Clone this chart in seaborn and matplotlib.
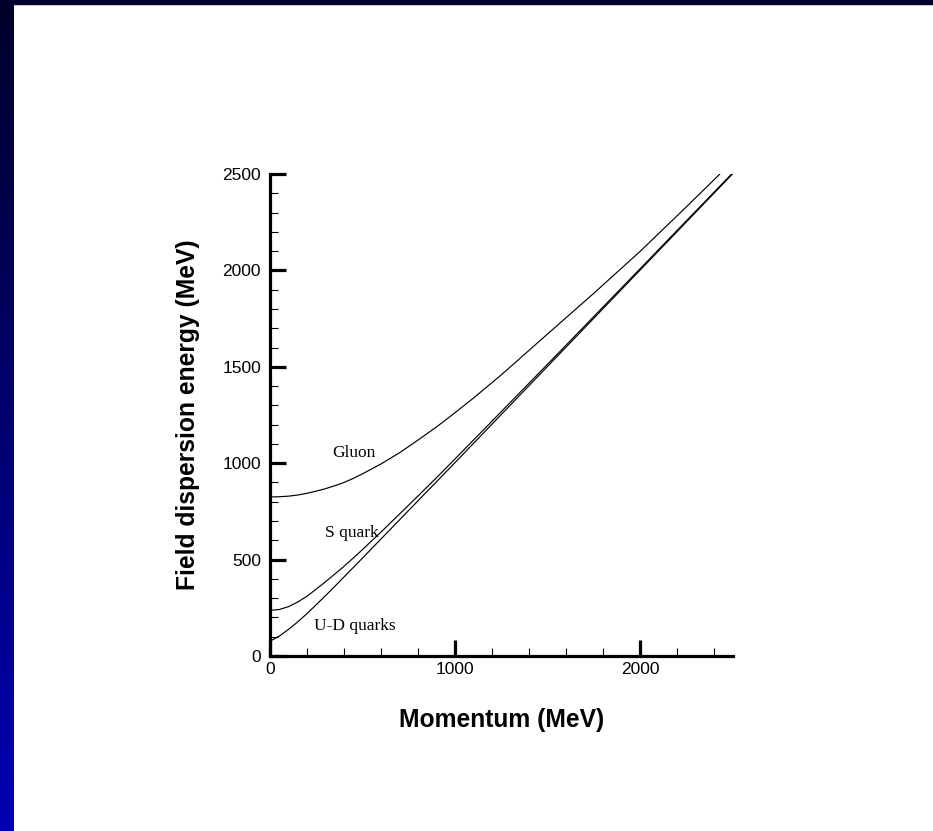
import numpy as np
import pandas as pd
import matplotlib
matplotlib.use("Agg")
import matplotlib.pyplot as plt
from matplotlib.colors import LinearSegmentedColormap
from matplotlib.patches import Rectangle
from matplotlib.ticker import MultipleLocator
import seaborn as sns

# Dispersion curves E(p), MeV
gluon_p = [0, 50, 100, 150, 200, 250, 300, 350, 400, 450, 500, 600, 700, 800, 900,
           1000, 1100, 1250, 1500, 1750, 2000, 2250, 2432]
gluon_e = [825, 826, 829, 835, 844, 855, 868, 883, 900, 921, 945, 996, 1054, 1120,
           1188, 1262, 1338, 1458, 1670, 1881, 2098, 2329, 2500]

s_quark_p = [0, 50, 100, 150, 200, 250, 300, 350, 400, 450, 500, 600, 700, 800,
             900, 1000, 1200, 1500, 2000, 2500]
s_quark_e = [237, 241, 256, 280, 310, 347, 385, 425, 465, 508, 552, 643, 736, 830,
             925, 1022, 1218, 1513, 2008, 2505]

ud_quark_p = [0, 50, 100, 150, 200, 250, 300, 350, 400, 500, 600, 800, 1000,
              1500, 2000, 2500]
ud_quark_e = [77, 103, 138, 177, 220, 266, 313, 361, 410, 508, 607, 805, 1003,
              1502, 2001, 2500]

curve_names = ["Gluon", "S quark", "U-D quarks"]
label_p = [452, 441, 456]
label_e = [1034, 619, 135]

x_ticks = [0, 1000, 2000]
y_ticks = [0, 500, 1000, 1500, 2000, 2500]

sns.set_style("ticks")
plt.rcParams["font.family"] = ["Liberation Sans", "DejaVu Sans"]
plt.rcParams.update({"text.color": "black", "axes.labelcolor": "black",
                     "xtick.color": "black", "ytick.color": "black"})

W, H = 933, 831
fig = plt.figure(figsize=(W / 100, H / 100), dpi=100)
fig.patch.set_facecolor("white")

# blue side band with vertical gradient and dark top strip
band = fig.add_axes([0, 0, 14 / W, 1])
grad = np.linspace(0, 1, 256).reshape(-1, 1)
cmap = LinearSegmentedColormap.from_list("band", ["#00002a", "#0000b4"])
band.imshow(grad, aspect="auto", cmap=cmap, extent=[0, 1, 1, 0])
band.set_axis_off()
fig.add_artist(Rectangle((0, 1 - 4 / H), 1, 4 / H, transform=fig.transFigure,
                         color="#00002e", zorder=10))

ax = fig.add_axes([270 / W, 175 / H, 462.5 / W, 482 / H])

df = pd.concat([
    pd.DataFrame({"p": gluon_p, "E": gluon_e, "field": "Gluon"}),
    pd.DataFrame({"p": s_quark_p, "E": s_quark_e, "field": "S quark"}),
    pd.DataFrame({"p": ud_quark_p, "E": ud_quark_e, "field": "U-D quarks"}),
])
for name in curve_names:
    sns.lineplot(data=df[df["field"] == name], x="p", y="E", ax=ax,
                 color="black", linewidth=0.85, sort=False, estimator=None)

for name, lp, le in zip(curve_names, label_p, label_e):
    ax.text(lp, le, name, ha="center", va="baseline", fontsize=12.5,
            family=["Liberation Serif", "DejaVu Serif"], color="black")

ax.set_xlim(0, 2500)
ax.set_ylim(0, 2500)
ax.set_xticks(x_ticks)
ax.set_yticks(y_ticks)
ax.xaxis.set_minor_locator(MultipleLocator(200))
ax.yaxis.set_minor_locator(MultipleLocator(100))

for side in ["top", "right"]:
    ax.spines[side].set_visible(False)
for side in ["left", "bottom"]:
    ax.spines[side].set_linewidth(2.3)
    ax.spines[side].set_color("black")

ax.tick_params(which="major", direction="in", length=11.5, width=2.3,
               labelsize=12.5, color="black", labelcolor="black")
ax.tick_params(axis="y", which="major", pad=6.5)
ax.tick_params(axis="x", which="major", pad=4)
ax.tick_params(which="minor", direction="in", length=6, width=0.8, color="black")

ax.set_xlabel("Momentum (MeV)", fontsize=17.7, fontweight="bold", color="black")
ax.set_ylabel("Field dispersion energy (MeV)", fontsize=17.7, fontweight="bold",
              color="black")
ax.xaxis.set_label_coords(0.5, -0.108)
ax.yaxis.set_label_coords(-0.151, 0.5)

fig.savefig("out.png", dpi=100)
